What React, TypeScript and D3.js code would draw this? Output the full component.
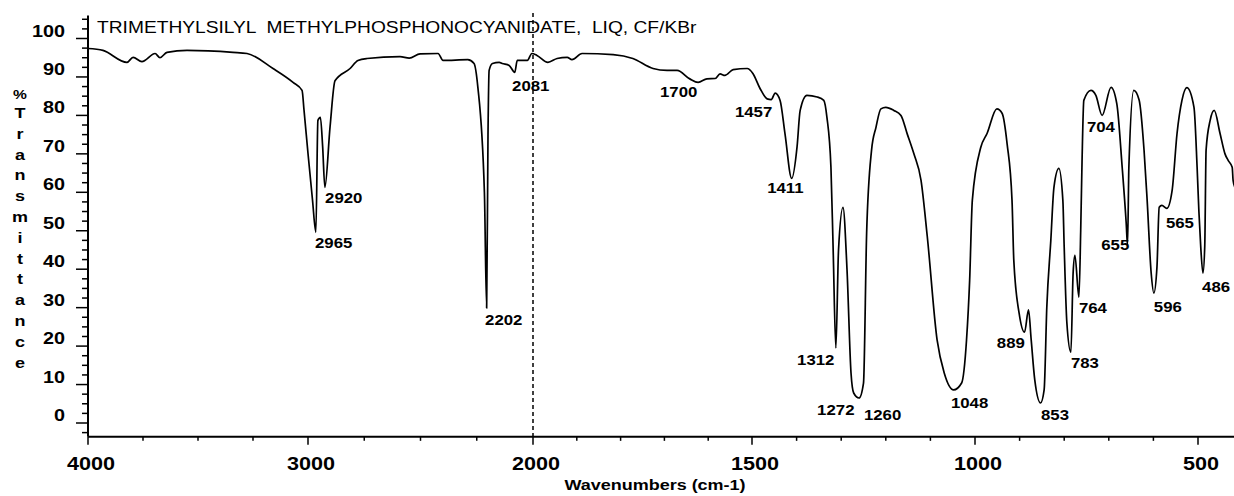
import React, { useEffect, useRef } from 'react';
import * as d3 from 'd3';

// IR spectrum
const wavenumbers = [
  4000, 3932, 3823, 3795, 3755, 3695, 3673, 3641, 3550, 3341, 3277, 3159, 3068, 3027, 3018, 3000,
  2980, 2965, 2956, 2945, 2935, 2925, 2902, 2880, 2813, 2778, 2738, 2591, 2550, 2502, 2422, 2400,
  2290, 2262, 2245, 2216, 2206, 2200, 2195, 2180, 2150, 2137, 2106, 2081, 2070, 2025, 2005,
  1991, 1966, 1945, 1922, 1911, 1888, 1817, 1772, 1726, 1694, 1671, 1642, 1623, 1603, 1584, 1573,
  1562, 1543, 1511, 1498, 1482, 1466, 1457, 1448, 1437, 1426, 1411, 1399, 1392, 1377, 1354, 1339,
  1332, 1323, 1318, 1312, 1306, 1296, 1287, 1278, 1272, 1260, 1250, 1243, 1232, 1222, 1211, 1200,
  1182, 1166, 1152, 1137, 1121, 1107, 1085, 1069, 1048, 1030, 1019, 1012, 1006, 987, 973,
  951, 939, 928, 917, 913, 901, 889, 880, 874, 866, 853, 845, 839, 830, 823, 812, 803, 800, 794,
  785, 780, 776, 767, 763, 760, 756, 740, 729, 715, 695, 682, 670, 661, 658, 655, 644, 632, 621,
  614, 605, 599, 592, 587, 581, 570, 558, 547, 536, 525, 509, 502, 498, 494, 489, 485, 482, 473,
  464, 451, 440, 433, 424, 422, 418,
];
const transmittance = [
  97.4, 96.9, 93.8, 95.1, 94.0, 96.1, 95.0, 96.4, 96.9, 96.4, 96.1, 92.2, 88.6, 86.5, 81.3, 70.1,
  58.0, 49.6, 78.7, 79.5, 72.0, 61.3, 77.0, 89.0, 92.2, 94.3, 94.8, 95.3, 94.9, 96.0, 96.1, 94.3,
  94.5, 93.5, 87.3, 60.0, 29.9, 75.0, 91.7, 93.5, 93.8, 93.5, 93.0, 91.2, 94.3, 94.3, 96.1,
  95.6, 93.8, 94.8, 95.1, 94.5, 96.1, 95.8, 94.8, 92.2, 91.7, 91.7, 89.5, 88.6, 89.5, 89.6, 90.8,
  90.4, 91.9, 92.2, 90.9, 87.0, 84.3, 84.1, 85.8, 83.9, 75.2, 63.6, 71.8, 81.3, 85.2, 84.8, 83.9,
  79.5, 66.5, 45.0, 19.5, 45.0, 56.1, 40.0, 13.0, 7.8, 6.5, 10.4, 49.3, 70.9, 76.9, 81.7, 82.1,
  81.3, 80.0, 75.2, 70.0, 63.1, 48.5, 21.6, 13.0, 8.6, 10.4, 21.6, 37.1, 57.9, 71.7, 75.3,
  81.7, 80.5, 72.6, 57.9, 42.3, 28.5, 23.6, 29.4, 21.6, 11.2, 5.2, 8.6, 30.1, 47.5, 61.3, 66.2, 57.9, 45.7, 26.0,
  18.4, 39.0, 43.6, 32.7, 50.0, 68.0, 83.9, 86.5, 85.2, 80.0, 87.3, 83.0, 66.5, 52.0, 46.2, 66.5, 86.5, 84.0, 71.0,
  57.9, 39.0, 33.8, 40.6, 56.1, 56.6, 55.8, 60.5, 75.3, 83.9, 87.2, 82.1, 66.5, 55.0, 46.0, 39.0, 46.0, 71.0, 78.7,
  81.3, 75.3, 70.0, 68.3, 66.5, 63.1, 61.3,
];

// peak annotations: text, and where its left/baseline sits in chart units
const peakLabels = ['2965', '2920', '2202', '2081', '1700', '1457', '1411', '1312', '1272', '1260',
  '1048', '889', '853', '783', '764', '704', '655', '596', '565', '486'];
const peakLabelWn = [2969, 2924, 2213, 2093, 1710, 1539, 1466, 1399, 1354, 1249,
  1054, 951, 852, 785, 767, 749, 717, 599, 572, 491];
const peakLabelT = [45.5, 57.2, 25.5, 86.3, 84.8, 79.6, 59.8, 15.1, 2.1, 0.8,
  3.9, 19.5, 0.8, 14.3, 28.6, 75.7, 45.0, 28.9, 50.7, 34.1];

const yTickLabels = [0, 10, 20, 30, 40, 50, 60, 70, 80, 90, 100];
const xTickLabels = [4000, 3000, 2000, 1500, 1000, 500];

const title = 'TRIMETHYLSILYL  METHYLPHOSPHONOCYANIDATE,  LIQ, CF/KBr';
const yTitle = '%Transmittance';
const xTitle = 'Wavenumbers (cm-1)';

const W = 1234;
const H = 496;
const SX = 1.2; // the scan is stretched sideways, text too
const FONT = '"Liberation Sans", Arial, Helvetica, sans-serif';

export default function App() {
  const svgRef = useRef<SVGSVGElement>(null);

  useEffect(() => {
    document.body.style.margin = '0';
    const svg = d3.select(svgRef.current);
    svg.selectAll('*').remove();

    // spectrum axis changes scale at 2000
    const x = d3.scaleLinear()
      .domain([4000, 3000, 2000, 1500, 1000, 500, 400])
      .range([88, 308, 533, 752, 975, 1198, 1243]);
    const y = d3.scaleLinear().domain([0, 100]).range([423, 38.5]);
    const yMin = -3.6;
    const yMax = 106;
    const x0 = x(4000);
    const yAxisBottom = y(yMin);

    const addText = (str: string, tx: number, ty: number, size: number, weight: string, anchor = 'start') =>
      svg.append('text')
        .attr('transform', `translate(${tx},${ty}) scale(${SX},1)`)
        .attr('font-family', FONT)
        .attr('font-size', size)
        .attr('font-weight', weight)
        .attr('text-anchor', anchor)
        .attr('fill', '#000')
        .style('white-space', 'pre')
        .text(str);

    // y axis
    svg.append('line')
      .attr('x1', x0).attr('x2', x0)
      .attr('y1', y(yMax)).attr('y2', yAxisBottom)
      .attr('stroke', '#000').attr('stroke-width', 2);
    d3.range(-2.5, 105.1, 2.5).forEach(v => {
      const major = Math.abs(v % 10) < 0.01;
      svg.append('line')
        .attr('x1', major ? x0 - 12 : x0 - 6).attr('x2', x0)
        .attr('y1', y(v)).attr('y2', y(v))
        .attr('stroke', '#000').attr('stroke-width', 1.5);
    });
    yTickLabels.forEach(v => addText(String(v), 65, y(v) - 2, 16.5, 'bold', 'end'));

    // x axis
    svg.append('line')
      .attr('x1', x0).attr('x2', W)
      .attr('y1', yAxisBottom).attr('y2', yAxisBottom)
      .attr('stroke', '#000').attr('stroke-width', 2);
    const xTicks = d3.range(4000, 2000, -250).concat(d3.range(2000, 399, -100));
    xTicks.forEach(t => {
      const major = xTickLabels.includes(t);
      svg.append('line')
        .attr('x1', x(t)).attr('x2', x(t))
        .attr('y1', yAxisBottom).attr('y2', yAxisBottom + (major ? 8 : 4))
        .attr('stroke', '#000').attr('stroke-width', 1.5);
    });
    xTickLabels.forEach(t => addText(String(t), x(t) + 3, 470, 18, 'bold', 'middle'));

    // scale break marker at 2000
    svg.append('line')
      .attr('x1', x(2000)).attr('x2', x(2000))
      .attr('y1', 13).attr('y2', yAxisBottom)
      .attr('stroke', '#000').attr('stroke-width', 1.5)
      .attr('stroke-dasharray', '4,3');

    // spectrum
    const line = d3.line<number>()
      .x((_, i) => x(wavenumbers[i]))
      .y(d => y(d))
      .curve(d3.curveMonotoneX);
    svg.append('path')
      .attr('d', line(transmittance))
      .attr('fill', 'none')
      .attr('stroke', '#000')
      .attr('stroke-width', 1.7)
      .attr('stroke-linejoin', 'round');

    peakLabels.forEach((p, i) => addText(p, x(peakLabelWn[i]), y(peakLabelT[i]), 14, 'bold'));

    // titles
    addText(title, 97, 33, 16, 'normal');
    addText(xTitle, 655, 490, 15, 'bold', 'middle');
    yTitle.split('').forEach((ch, i) => {
      const by = i === 0 ? 99 : 118 + (i - 1) * 20.8;
      addText(ch, 20, by, i === 0 ? 13 : 15, 'bold', 'middle');
    });
  }, []);

  return (
    <svg ref={svgRef} width={W} height={H} style={{ display: 'block', background: '#fff' }}></svg>
  );
}
